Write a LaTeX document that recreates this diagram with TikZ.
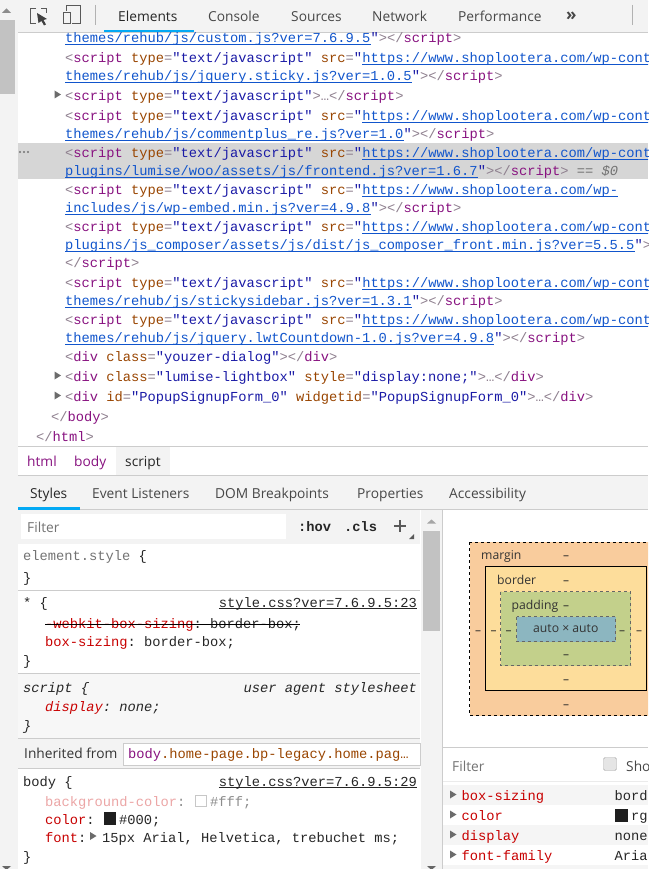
\documentclass[tikz,border=0pt]{standalone}
\usepackage{fontspec}
\setmainfont{Open Sans}
\setmonofont{Liberation Mono}
\definecolor{tagpurple}{HTML}{881280}
\definecolor{attrbrown}{HTML}{994500}
\definecolor{valblue}{HTML}{1A1AA6}
\definecolor{linkblue}{HTML}{1155CC}
\definecolor{punctgray}{HTML}{8E7F8E}
\definecolor{panelgray}{HTML}{F3F3F3}
\definecolor{linegray}{HTML}{CCCCCC}
\definecolor{tabblue}{HTML}{03A9F4}
\definecolor{propred}{HTML}{C80000}
\newsavebox\lnkbox
\newcommand{\pct}[1]{\textcolor{punctgray}{#1}}
\newcommand{\tgn}[1]{\textcolor{tagpurple}{#1}}
\newcommand{\atn}[1]{\textcolor{attrbrown}{#1}}
\newcommand{\vlu}[1]{\textcolor{valblue}{#1}}
\newcommand{\lnk}[1]{\textcolor{linkblue}{\sbox\lnkbox{#1}\rlap{\rule[-2pt]{\wd\lnkbox}{0.7pt}}\usebox\lnkbox}}
\newcommand{\srcul}[1]{\sbox\lnkbox{#1}\rlap{\rule[-2pt]{\wd\lnkbox}{0.7pt}}\usebox\lnkbox}
\newcommand{\scropen}{\pct{<}\tgn{script} \atn{type}\pct{=}\vlu{"text/javascript"} \atn{src}\pct{=}\vlu{"}}
\newcommand{\scrclose}{\vlu{"}\pct{>}\pct{</}\tgn{script}\pct{>}}
\newcommand{\twisty}[2]{\fill[twistygray] (#1,#2) -- ++(6.5,4) -- ++(-6.5,4) -- cycle;}
\tikzset{
    mono/.style={anchor=base west,inner sep=0pt,yshift=-1pt,font=\ttfamily\fontsize{13.75}{16}\selectfont,text=black!85},
    ui/.style={anchor=base west,inner sep=0pt,font=\fontsize{13.75}{16}\selectfont,text=black!72},
    dashlabel/.style={inner sep=0pt,font=\fontsize{12}{14}\selectfont,text=black!85},
    twistygray/.style={fill=black!58},
    rulesep/.style={draw=linegray,line width=0.8pt}
}
\begin{document}
\begin{tikzpicture}[x=1pt,y=-1pt]
    \clip (0,0) rectangle (648,869);
    \fill[white] (0,0) rectangle (648,869);
    \fill[panelgray] (0,0) rectangle (18,869);
    \fill[panelgray] (0,0) rectangle (648,32);
    \fill[black!24] (0,20) rectangle (15,94);
    \fill[black!45] (2,13) -- (6.5,8.5) -- (11,13) -- cycle;
    \fill[black!60] (2,866) -- (11,866) -- (6.5,870) -- cycle;
    \draw[linegray,line width=0.8pt] (18,32.5) -- (648,32.5);
    \draw[black!65,line width=1pt] (36,8.5) -- (30.5,8.5) -- (30.5,24) -- (36,24);
    \draw[black!65,line width=1pt] (41,8.5) -- (46.5,8.5) -- (46.5,13);
    \fill[black!75] (37,13) -- (47,19) -- (43.5,20) -- (46,24.5) -- (44,25.5) -- (41.5,21) -- (38.5,23) -- cycle;
    \draw[black!65,line width=1pt] (66,6) rectangle (80.5,24);
    \fill[panelgray] (62,11) rectangle (72,25);
    \draw[black!65,line width=1pt] (63,13) rectangle (70.5,24);
    \draw[black!30] (95.5,5) -- (95.5,25);
    \draw[black!30] (632.5,5) -- (632.5,25);
    \fill[tabblue] (104,30) rectangle (194,32.5);
    \node[ui,text=black!85] (tabElements) at (118,21.5) {Elements};
    \node[ui] (tabConsole) at (208,21.5) {Console};
    \node[ui] (tabSources) at (291,21.5) {Sources};
    \node[ui] (tabNetwork) at (372,21.5) {Network};
    \node[ui] (tabPerformance) at (458,21.5) {Performance};
    \node[ui,font=\bfseries\fontsize{17}{18}\selectfont] (tabMore) at (566,21) {»};
    \fill[black!16] (18,143) rectangle (648,179);
    \fill[black!55] (20,152) circle (1.1) (24,152) circle (1.1) (28,152) circle (1.1);
    \foreach \ypos/\xpos/\txt [count=\n] in {
        42/65/{\lnk{themes/rehub/js/custom.js?ver=7.6.9.5}\scrclose},
        61.5/65/{\scropen\lnk{https://www.shoplootera.com/wp-cont}},
        79.7/65/{\lnk{themes/rehub/js/jquery.sticky.js?ver=1.0.5}\scrclose},
        99.5/65/{\pct{<}\tgn{script} \atn{type}\pct{=}\vlu{"text/javascript"}\pct{>…</}\tgn{script}\pct{>}},
        119.5/65/{\scropen\lnk{https://www.shoplootera.com/wp-cont}},
        137.3/65/{\lnk{themes/rehub/js/commentplus\_re.js?ver=1.0}\scrclose},
        156.7/65/{\scropen\lnk{https://www.shoplootera.com/wp-cont}},
        174.7/65/{\lnk{plugins/lumise/woo/assets/js/frontend.js?ver=1.6.7}\scrclose\ \textcolor{black!55}{== \textit{\$0}}},
        193.7/65/{\scropen\lnk{https://www.shoplootera.com/wp-}},
        211.3/65/{\lnk{includes/js/wp-embed.min.js?ver=4.9.8}\scrclose},
        230.7/65/{\scropen\lnk{https://www.shoplootera.com/wp-cont}},
        248.3/65/{\lnk{plugins/js\_composer/assets/js/dist/js\_composer\_front.min.js?ver=5.5.5}\vlu{"}\pct{>}},
        266.7/65/{\pct{</}\tgn{script}\pct{>}},
        286.7/65/{\scropen\lnk{https://www.shoplootera.com/wp-cont}},
        304.7/65/{\lnk{themes/rehub/js/stickysidebar.js?ver=1.3.1}\scrclose},
        323.3/65/{\scropen\lnk{https://www.shoplootera.com/wp-cont}},
        341.3/65/{\lnk{themes/rehub/js/jquery.lwtCountdown-1.0.js?ver=4.9.8}\scrclose},
        360.7/65/{\pct{<}\tgn{div} \atn{class}\pct{=}\vlu{"youzer-dialog"}\pct{></}\tgn{div}\pct{>}},
        380.7/65/{\pct{<}\tgn{div} \atn{class}\pct{=}\vlu{"lumise-lightbox"} \atn{style}\pct{=}\vlu{"display:none;"}\pct{>…</}\tgn{div}\pct{>}},
        400.7/65/{\pct{<}\tgn{div} \atn{id}\pct{=}\vlu{"PopupSignupForm\_0"} \atn{widgetid}\pct{=}\vlu{"PopupSignupForm\_0"}\pct{>…</}\tgn{div}\pct{>}},
        420.7/51/{\pct{</}\tgn{body}\pct{>}},
        440.7/36/{\pct{</}\tgn{html}\pct{>}}
    }{
        \node[mono] (code\n) at (\xpos,\ypos) {\txt};
    }
    \twisty{54.5}{90.5}
    \twisty{54.5}{371.5}
    \twisty{54.5}{391.5}
    \draw[linegray,line width=0.8pt] (18,446) -- (648,446);
    \fill[panelgray] (116,446.5) rectangle (170,475);
    \draw[linegray,line width=0.8pt] (18,475) -- (648,475);
    \node[ui,text=tagpurple] (crumbHtml) at (27,466) {html};
    \node[ui,text=tagpurple] (crumbBody) at (74,466) {body};
    \node[ui,text=black!85] (crumbScript) at (125,466) {script};
    \fill[panelgray] (18,475.5) rectangle (648,509);
    \node[ui,text=black!85] (tabStyles) at (30,498) {Styles};
    \node[ui] (tabListeners) at (92,498) {Event Listeners};
    \node[ui] (tabBreakpoints) at (215,498) {DOM Breakpoints};
    \node[ui] (tabProperties) at (357,498) {Properties};
    \node[ui] (tabAccessibility) at (449,498) {Accessibility};
    \draw[linegray,line width=0.8pt] (18,509.5) -- (648,509.5);
    \fill[tabblue] (18,507) rectangle (80,510);
    \fill[panelgray] (18,510.2) rectangle (420,544);
    \fill[white] (21,514) rectangle (286,539);
    \node[ui,text=black!55] (stylesFilter) at (27,532) {Filter};
    \node[mono,font=\ttfamily\bfseries\fontsize{13.75}{16}\selectfont] (hovBtn) at (298,530) {:hov};
    \node[mono,font=\ttfamily\bfseries\fontsize{13.75}{16}\selectfont] (clsBtn) at (344,530) {.cls};
    \draw[black!65,line width=1.2pt] (394,526) -- (406,526) (400,520) -- (400,532);
    \fill[black!65] (414,534) -- (414,539) -- (409,539) -- cycle;
    \fill[panelgray] (421,510.2) rectangle (441.5,869);
    \draw[linegray,line width=0.8pt] (442,510) -- (442,869);
    \fill[black!24] (423,531) rectangle (440,631);
    \fill[black!35] (427,523.5) -- (431.5,519.5) -- (436,523.5) -- cycle;
    \fill[black!60] (427,866) -- (436,866) -- (431.5,870) -- cycle;
    \node[mono,text=black!55] (elemStyle) at (23,559.5) {element.style \textcolor{black!85}{\{}};
    \node[mono] (elemClose) at (23,581) {\}};
    \draw[rulesep] (18,590) -- (420,590);
    \node[mono] (starOpen) at (23,606) {* \{};
    \node[mono,anchor=base east] (starSrc) at (417,606) {\srcul{style.css?ver=7.6.9.5:23}};
    \node[mono] (webkitLine) at (45,627) {\textcolor{propred}{-webkit-box-sizing}: border-box;};
    \draw[black,line width=0.8pt] (webkitLine.west) ++(0,-0.5) -- ++(255,0);
    \node[mono] (sizingLine) at (45,645) {\textcolor{propred}{box-sizing}: border-box;};
    \node[mono] (starClose) at (23,664) {\}};
    \draw[rulesep] (18,673) -- (420,673);
    \fill[black!3] (18,673.5) rectangle (420,738);
    \node[mono,font=\ttfamily\itshape\fontsize{13.75}{16}\selectfont] (scriptOpen) at (23,691) {script \{};
    \node[mono,anchor=base east,font=\ttfamily\itshape\fontsize{13.75}{16}\selectfont] (agentNote) at (417,691) {user agent stylesheet};
    \node[mono,font=\ttfamily\itshape\fontsize{13.75}{16}\selectfont] (displayLine) at (45,710) {\textcolor{propred}{display}: none;};
    \node[mono,font=\ttfamily\itshape\fontsize{13.75}{16}\selectfont] (scriptClose) at (23,729) {\}};
    \draw[rulesep] (18,738) -- (420,738);
    \fill[panelgray] (18,738.5) rectangle (420,768);
    \node[ui,text=black!80] (inheritedLabel) at (24,758) {Inherited from};
    \draw[linegray,fill=white] (123.5,743.5) rectangle (420,765);
    \node[mono,text=attrbrown] (inheritedBody) at (128,757) {\tgn{body}.home-page.bp-legacy.home.pag…};
    \draw[rulesep] (18,768) -- (420,768);
    \node[mono] (bodyOpen) at (23,785) {body \{};
    \node[mono,anchor=base east] (bodySrc) at (417,785) {\srcul{style.css?ver=7.6.9.5:29}};
    \node[mono,text=black!45] (bgLine) at (45,805) {\textcolor{propred!35}{background-color}:};
    \draw[black!22,fill=white] (195.5,795.5) rectangle (206.5,806.5);
    \node[mono,text=black!45] (bgValue) at (210,805) {\#fff;};
    \node[mono] (colorLine) at (45,823) {\textcolor{propred}{color}:};
    \fill[black!88] (104,812) rectangle (116,825);
    \node[mono] (colorValue) at (119,823) {\#000;};
    \node[mono] (fontLine) at (45,841) {\textcolor{propred}{font}:};
    \twisty{90}{832}
    \node[mono] (fontValue) at (102,841) {15px Arial, Helvetica, trebuchet ms;};
    \node[mono] (bodyClose) at (23,860) {\}};
    \draw[black,dashed,fill={rgb,255:red,249;green,204;blue,157},line width=0.7pt] (469.5,542) rectangle (660,715.5);
    \draw[black,fill={rgb,255:red,253;green,221;blue,155},line width=0.8pt] (485.5,566.5) rectangle (646.5,690);
    \draw[black!60,dashed,fill={rgb,255:red,195;green,208;blue,139},line width=0.6pt] (500.5,591.5) rectangle (630.5,665.5);
    \draw[black!60,dashed,fill={rgb,255:red,140;green,182;blue,192},line width=0.6pt] (516.5,616.5) rectangle (615.5,641.5);
    \node[ui,font=\fontsize{12.2}{14}\selectfont,text=black!80] (marginLabel) at (481,559) {margin};
    \node[ui,font=\fontsize{12.2}{14}\selectfont,text=black!80] (borderLabel) at (497,584) {border};
    \node[ui,font=\fontsize{12.2}{14}\selectfont,text=black!80] (paddingLabel) at (511.5,609) {padding};
    \node[inner sep=0pt,font=\fontsize{12.2}{14}\selectfont,text=black!80] (contentLabel) at (565.8,629) {auto × auto};
    \foreach \xpos/\ypos [count=\n] in {566/558, 566/583, 566/608, 566/657, 566/682, 566/707, 478/633, 493.5/633, 508.5/633, 622/633, 639/633}{
        \node[dashlabel] (boxdash\n) at (\xpos,\ypos) {–};
    }
    \draw[linegray,line width=0.8pt] (443,747.5) -- (648,747.5);
    \node[ui,text=black!55] (computedFilter) at (452,771) {Filter};
    \draw[black!35,fill=black!10,rounded corners=1.5pt] (603.5,757.5) rectangle (616.5,770.5);
    \node[ui] (showAll) at (626,771) {Sho};
    \draw[black!8,line width=0.8pt] (443,781) -- (648,781);
    \foreach \ypos in {785,825,865}{
        \fill[black!4] (443,\ypos) rectangle (648,\ypos+20);
    }
    \foreach \ypos/\prop/\valtxt [count=\n] in {799.5/box-sizing/bord, 819.5/color/, 839.5/display/none, 859.5/font-family/Aria}{
        \twisty{450}{\ypos-9}
        \node[mono,text=propred] (compProp\n) at (461.5,\ypos) {\prop};
        \node[mono] (compVal\n) at (614.5,\ypos) {\valtxt};
    }
    \fill[black!88] (615,809) rectangle (628,822);
    \node[mono] (compColorVal) at (631,819.5) {rg};
\end{tikzpicture}
\end{document}
